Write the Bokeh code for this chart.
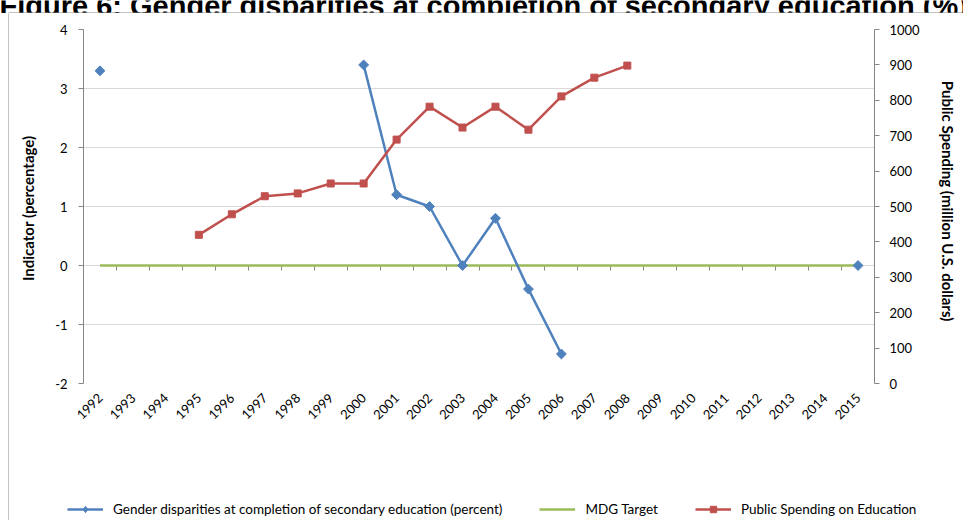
import math
from bokeh.plotting import figure
from bokeh.layouts import column, row
from bokeh.models import (FactorRange, Range1d, LinearAxis, CategoricalAxis, FixedTicker, Grid,
                          ColumnDataSource, Legend, LegendItem, Label, BoxAnnotation)
from bokeh.embed import file_html
from bokeh.resources import INLINE

nan = float("nan")

years = ["1992", "1993", "1994", "1995", "1996", "1997", "1998", "1999", "2000", "2001", "2002", "2003",
         "2004", "2005", "2006", "2007", "2008", "2009", "2010", "2011", "2012", "2013", "2014", "2015"]
gender_disparity = [3.3, nan, nan, nan, nan, nan, nan, nan, 3.4, 1.2, 1.0, 0.0,
                    0.8, -0.4, -1.5, nan, nan, nan, nan, nan, nan, nan, nan, 0.0]
mdg_target = [0.0, 0.0, 0.0, 0.0, 0.0, 0.0, 0.0, 0.0, 0.0, 0.0, 0.0, 0.0,
              0.0, 0.0, 0.0, 0.0, 0.0, 0.0, 0.0, 0.0, 0.0, 0.0, 0.0, 0.0]
public_spending = [nan, nan, nan, 420, 478, 529, 537, 565, 565, 689, 782, 723,
                   782, 717, 811, 864, 898, nan, nan, nan, nan, nan, nan, nan]
left_ticks = [-2, -1, 0, 1, 2, 3, 4]
left_tick_labels = {-2: "-2", -1: "-1", 0: "0", 1: "1", 2: "2", 3: "3", 4: "4"}
right_ticks = [0, 100, 200, 300, 400, 500, 600, 700, 800, 900, 1000]

title_text = "Figure 6: Gender disparities at completion of secondary education (%)"
left_title = "Indicator  (percentage)"
right_title = "Public Spending  (million  U.S.  dollars)"
legend_labels = ["Gender disparities at completion of secondary education (percent)",
                 "MDG Target", "Public Spending on Education"]

FONT = "Lato"
AXIS_GREY = "#868686"
BLUE = "#4F81BD"
RED = "#C0504D"
GREEN = "#9BBB59"


def free_frame(f):
    try:
        f.frame_align = False
        return True
    except Exception:
        return False


def strip(width, height):
    f = figure(width=width, height=height, x_range=Range1d(0, 1), y_range=Range1d(0, 1),
               x_axis_location=None, y_axis_location=None, min_border=0,
               output_backend="svg", toolbar_location=None)
    f.xgrid.visible = False
    f.ygrid.visible = False
    f.outline_line_color = None
    f.background_fill_color = "white"
    f.border_fill_color = "white"
    return f


# ---- title strip: title cut off at the top, chart-area border line below it ----
TITLE_H = 13
tf = strip(963, TITLE_H)
free_frame(tf)
tf.add_layout(Label(x=-1, y=8, x_units="screen", y_units="screen", text=title_text,
                    text_align="left", text_baseline="alphabetic",
                    text_font="Liberation Sans", text_font_style="bold",
                    text_font_size="29px", text_color="black"))
tf.add_layout(BoxAnnotation(left=8, right=3000, bottom=0, top=1,
                            left_units="screen", right_units="screen",
                            bottom_units="screen", top_units="screen",
                            fill_color=AXIS_GREY, fill_alpha=1, line_color=None))

# ---- main chart ----
MAIN_W, MAIN_H = 950, 485
LEG_H = 22
X0 = 9            # page x of the main chart canvas
src = ColumnDataSource(dict(year=years, gender=gender_disparity, mdg=mdg_target, spend=public_spending))

p = figure(width=MAIN_W, height=MAIN_H, x_range=FactorRange(*years), y_range=Range1d(-2, 4),
           x_axis_location=None, y_axis_location=None,
           output_backend="svg", toolbar_location=None,
           min_border_left=83 - X0, min_border_right=MAIN_W - (878 - X0),
           min_border_top=29 - TITLE_H, min_border_bottom=MAIN_H - (383 - TITLE_H))
p.xgrid.visible = False
p.ygrid.visible = False
p.extra_y_ranges = {"spend": Range1d(0, 1000)}
p.outline_line_color = None
p.background_fill_color = "white"
p.border_fill_color = "white"

# left axis
yl = LinearAxis(ticker=FixedTicker(ticks=left_ticks, minor_ticks=[]),
                major_label_overrides=left_tick_labels,
                axis_line_color=AXIS_GREY, major_tick_line_color=AXIS_GREY,
                major_tick_in=0, major_tick_out=5, minor_tick_line_color=None,
                major_label_text_font=FONT, major_label_text_font_size="13px",
                major_label_text_color="black", major_label_standoff=11,
                axis_label=left_title, axis_label_text_font=FONT,
                axis_label_text_font_style="bold", axis_label_text_font_size="15px",
                axis_label_text_color="black", axis_label_standoff=15)
p.add_layout(yl, "left")

# right axis
yr = LinearAxis(y_range_name="spend", ticker=FixedTicker(ticks=right_ticks, minor_ticks=[]),
                axis_line_color=AXIS_GREY, major_tick_line_color=AXIS_GREY,
                major_tick_in=0, major_tick_out=5, minor_tick_line_color=None,
                major_label_text_font=FONT, major_label_text_font_size="13px",
                major_label_text_color="black", major_label_standoff=10,
                axis_label=right_title, axis_label_text_font=FONT,
                axis_label_text_font_style="bold", axis_label_text_font_size="15px",
                axis_label_text_color="black", axis_label_standoff=16)
p.add_layout(yr, "right")

p.add_layout(Grid(dimension=1, ticker=FixedTicker(ticks=left_ticks, minor_ticks=[]),
                  grid_line_color="#D9D9D9", grid_line_width=1))

# category labels at the bottom
xc = CategoricalAxis(axis_line_color=None, major_tick_line_color=None,
                     major_tick_in=0, major_tick_out=0,
                     major_label_orientation=math.pi / 4, major_label_standoff=12,
                     major_label_text_font=FONT, major_label_text_font_size="13px",
                     major_label_text_color="black")
p.add_layout(xc, "below")

# category axis line crossing at zero, ticks between categories (synthetic factor coords)
boundaries = list(range(len(years) + 1))
xb = LinearAxis(fixed_location=0,
                ticker=FixedTicker(ticks=boundaries, minor_ticks=[]),
                axis_line_color=AXIS_GREY, major_tick_line_color=AXIS_GREY,
                major_tick_in=0, major_tick_out=5, minor_tick_line_color=None,
                major_label_overrides={b: "" for b in boundaries},
                major_label_text_font_size="1px", level="underlay")
p.add_layout(xb, "below")

p.line("year", "mdg", source=src, line_color=GREEN, line_width=2.5)
p.line("year", "gender", source=src, line_color=BLUE, line_width=2.5)
p.scatter("year", "gender", source=src, marker="square", angle=math.pi / 4, size=7,
          fill_color=BLUE, line_color=BLUE)
p.line("year", "spend", source=src, y_range_name="spend", line_color=RED, line_width=2.5)
p.scatter("year", "spend", source=src, y_range_name="spend", marker="square", size=7,
          fill_color=RED, line_color=RED)

# ---- legend strip (legend-only entries styled like the series above; no visible points) ----
lg = strip(MAIN_W, LEG_H)
free_legend = free_frame(lg)
key_src = ColumnDataSource(dict(x=[nan], y=[nan]))
k1 = lg.line("x", "y", source=key_src, line_color=BLUE, line_width=2.5)
k1m = lg.scatter("x", "y", source=key_src, marker="diamond", size=9,
                 fill_color=BLUE, line_color=BLUE)
k2 = lg.line("x", "y", source=key_src, line_color=GREEN, line_width=2.5)
k3 = lg.line("x", "y", source=key_src, line_color=RED, line_width=2.5)
k3m = lg.scatter("x", "y", source=key_src, marker="square", size=7, fill_color=RED, line_color=RED)
legend = Legend(items=[LegendItem(label=legend_labels[0], renderers=[k1, k1m]),
                       LegendItem(label=legend_labels[1], renderers=[k2]),
                       LegendItem(label=legend_labels[2], renderers=[k3, k3m])],
                orientation="horizontal",
                location=((67 - X0) if free_legend else (67 - 83), 3),
                padding=0, margin=0,
                spacing=37, glyph_width=36, glyph_height=16, label_height=16,
                label_standoff=10, label_text_font=FONT, label_text_font_size="13.5px",
                label_text_color="black",
                border_line_color=None, background_fill_alpha=0)
lg.add_layout(legend)

# ---- left border line of the chart area ----
bf = strip(X0, MAIN_H + LEG_H)
free_frame(bf)
bf.add_layout(BoxAnnotation(left=8, right=9, bottom=-10, top=3000,
                            left_units="screen", right_units="screen",
                            bottom_units="screen", top_units="screen",
                            fill_color=AXIS_GREY, fill_alpha=1, line_color=None))

layout = column(tf, row(bf, column(p, lg, spacing=0), spacing=0), spacing=0)
open("out.html", "w").write(file_html(layout, INLINE))
